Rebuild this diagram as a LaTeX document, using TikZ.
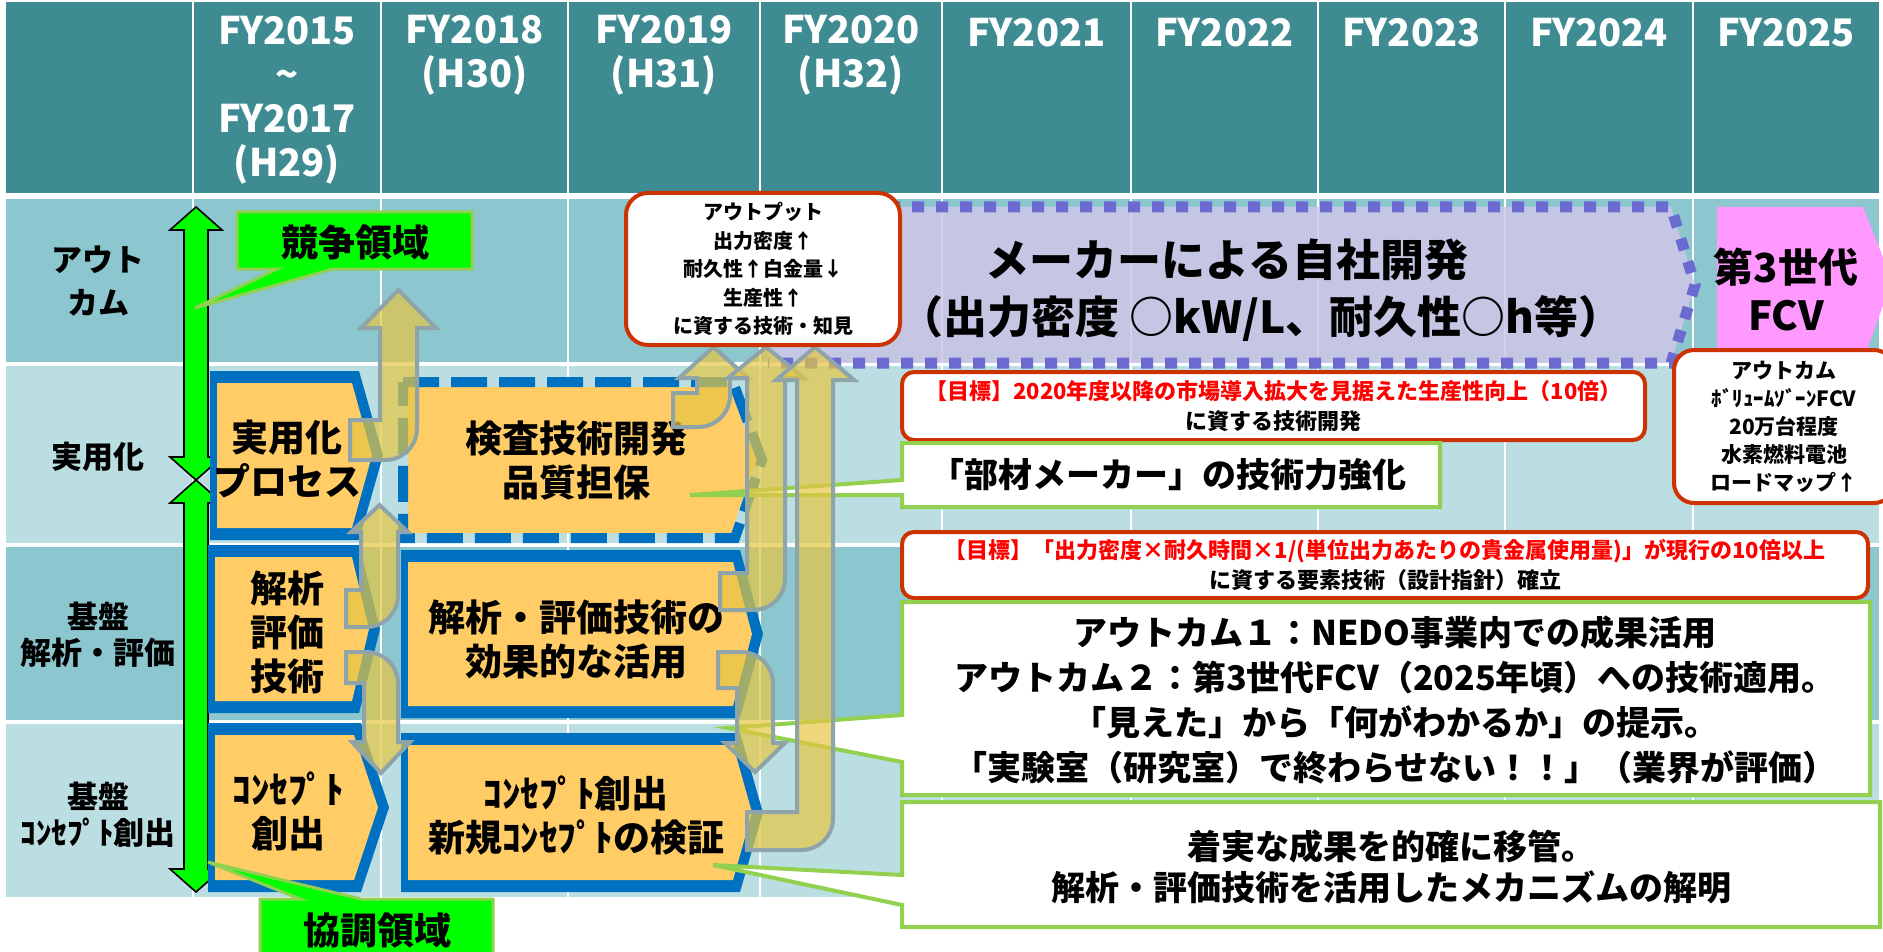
\documentclass[tikz,border=0pt]{standalone}
\usepackage{fontspec}
\setmainfont{Noto Sans CJK JP}
\usetikzlibrary{calc}

\definecolor{hdrteal}{RGB}{62,139,145}
\definecolor{rowmid}{RGB}{140,198,206}
\definecolor{rowlight}{RGB}{187,222,226}
\definecolor{boxblue}{RGB}{0,112,192}
\definecolor{boxorange}{RGB}{255,204,102}
\definecolor{notegreen}{RGB}{146,208,80}
\definecolor{areagreen}{RGB}{0,255,0}
\definecolor{goalred}{RGB}{204,51,0}
\definecolor{makerfill}{RGB}{207,198,232}
\definecolor{makerdot}{RGB}{106,106,208}
\definecolor{fcvpink}{RGB}{255,153,255}
\definecolor{arrfill}{RGB}{230,198,67}
\definecolor{arredge}{RGB}{143,164,168}

\newcommand{\platebox}[5]{%
  \fill[boxblue] (#1,#2) -- (#3,#2) -- (#4,{(#2+#5)/2}) -- (#3,#5) -- (#1,#5) -- cycle;
  \fill[boxorange] (#1+7,#2+12) -- (#3-7,#2+12) -- (#4-11,{(#2+#5)/2}) -- (#3-7,#5-12) -- (#1+7,#5-12) -- cycle;}
\newcommand{\greenarrow}[3]{\draw[greenarr] (#1,#2) -- (#1+26,#2+23) -- (#1+12,#2+23) -- (#1+12,#3-23) -- (#1+26,#3-23) -- (#1,#3) -- (#1-26,#3-23) -- (#1-12,#3-23) -- (#1-12,#2+23) -- (#1-26,#2+23) -- cycle;}
\newcommand{\jarrowup}[8]{%
  \draw[yellowarr] (#1,#2) -- (#4,#2) -- (#4,#6) -- (#4-#8,#6) -- ({(#4+#5)/2},#7) -- (#5+#8,#6) -- (#5,#6) -- (#5,#3-32) .. controls (#5,#3-14) and (#5-14,#3) .. (#5-32,#3) -- (#1,#3) -- cycle;}
\newcommand{\jarrowdown}[8]{%
  \draw[yellowarr] (#1,#3) -- (#4,#3) -- (#4,#6) -- (#4-#8,#6) -- ({(#4+#5)/2},#7) -- (#5+#8,#6) -- (#5,#6) -- (#5,#2+32) .. controls (#5,#2+14) and (#5-14,#2) .. (#5-32,#2) -- (#1,#2) -- cycle;}

\begin{document}
\begin{tikzpicture}[x=0.5pt,y=-0.5pt,
    hdrtxt/.style={text=white,font=\bfseries\fontsize{19}{22}\selectfont,align=center,inner sep=0},
    sidetxt/.style={font=\bfseries\fontsize{15.5}{18}\selectfont,align=center,inner sep=0},
    boxtxt/.style={font=\bfseries\fontsize{18.5}{22}\selectfont,align=center,inner sep=0},
    greenarr/.style={fill=areagreen,draw=black,line width=0.8pt},
    yellowarr/.style={fill=arrfill,fill opacity=0.7,draw=arredge,line width=2pt},
    notebox/.style={fill=white,draw=notegreen,line width=2pt},
    areabox/.style={fill=areagreen,draw=notegreen,line width=1.5pt},
    goalbox/.style={fill=white,draw=goalred,line width=2pt,rounded corners=6pt,align=center,inner sep=0,
      font=\bfseries\fontsize{11}{15}\selectfont}]
	\useasboundingbox (0,0) rectangle (1883,952);
	\clip (0,0) rectangle (1883,952);

    % table
    \fill[hdrteal] (6,2) rectangle (1879,193);
    \fill[rowmid] (6,199) rectangle (1879,362);
    \fill[rowlight] (6,366) rectangle (1879,543);
    \fill[rowmid] (6,547) rectangle (1879,720);
    \fill[rowlight] (6,724) rectangle (1879,897);
    \foreach \gx in {193,381,568,760,942,1131,1318,1505,1693} {
      \draw[white,line width=1pt] (\gx,2) -- (\gx,193);
      \draw[white,line width=1pt] (\gx,199) -- (\gx,897);
    }

    \node[hdrtxt] (fy15) at (287,100) {FY2015\\\textasciitilde\\FY2017\\(H29)};
    \node[hdrtxt] (fy18) at (474.5,55) {FY2018\\(H30)};
    \node[hdrtxt] (fy19) at (664,55) {FY2019\\(H31)};
    \node[hdrtxt] (fy20) at (851,55) {FY2020\\(H32)};
    \node[hdrtxt] (fy21) at (1036.5,33) {FY2021};
    \node[hdrtxt] (fy22) at (1224.5,33) {FY2022};
    \node[hdrtxt] (fy23) at (1411.5,33) {FY2023};
    \node[hdrtxt] (fy24) at (1599,33) {FY2024};
    \node[hdrtxt] (fy25) at (1786,33) {FY2025};

    \node[sidetxt,font=\bfseries\fontsize{15.5}{21.5}\selectfont] (lblout) at (98,281) {アウト\\カム};
    \node[sidetxt] (lblprac) at (98,457) {実用化};
    \node[sidetxt] (lblanal) at (98,635) {基盤\\解析・評価};
    \node[sidetxt] (lblconc) at (98,815) {基盤\\ｺﾝｾﾌﾟﾄ創出};

    % green range arrows
    \greenarrow{196}{207}{480}
    \greenarrow{196}{480}{892}

    % work packages
    \platebox{210}{371}{359}{383}{540}
    \platebox{208}{545}{359}{380}{713}
    \platebox{208}{723}{361}{389}{892}
    \platebox{401}{550}{740}{763}{718}
    \platebox{401}{733}{740}{763}{892}
    \fill[boxorange] (408,387) -- (730,387) -- (756,460) -- (731,533) -- (408,533) -- cycle;
    \draw[boxblue,line width=5pt,dash pattern=on 18pt off 6pt] (403,382) -- (733,382) -- (762,460) -- (735,538) -- (403,538) -- cycle;

    \node[boxtxt] (prac) at (287,459) {実用化\\プロセス};
    \node[boxtxt] (anal) at (287,632) {解析\\評価\\技術};
    \node[boxtxt] (conc) at (288,811) {ｺﾝｾﾌﾟﾄ\\創出};
    \node[boxtxt] (insp) at (576,461) {検査技術開発\\品質担保};
    \node[boxtxt] (use) at (576,640) {解析・評価技術の\\効果的な活用};
    \node[boxtxt] (verif) at (576,815) {ｺﾝｾﾌﾟﾄ創出\\新規ｺﾝｾﾌﾟﾄの検証};

    % maker development and FCV
    \fill[makerfill,opacity=0.85] (768,207) -- (1671,207) -- (1695,285) -- (1671,363) -- (768,363) -- cycle;
    \draw[makerdot,line width=5.5pt,dash pattern=on 6pt off 6pt] (768,207) -- (1671,207) -- (1695,285) -- (1671,363) -- (768,363);
    \node[font=\bfseries\fontsize{22}{29}\selectfont,inner sep=0] (maker1) at (1227,260) {メーカーによる自社開発};
    \node[font=\bfseries\fontsize{22}{29}\selectfont,inner sep=0] (maker2) at (1261,318) {（出力密度\ ○kW/L、耐久性○h等）};
    \fill[fcvpink] (1717,207) -- (1863,207) -- (1892,280) -- (1866,353) -- (1717,353) -- cycle;
    \node[font=\bfseries\fontsize{20}{24}\selectfont,align=center,inner sep=0] (fcv) at (1786,289) {第3世代\\FCV};

    % callouts
    \coordinate (tipcomp) at (195,308);
    \coordinate (tipcoop) at (208,862);
    \draw[areabox] (237,212) -- (472,212) -- (472,269) -- (333,269) -- (tipcomp) -- (277,269) -- (237,269) -- cycle;
    \node[font=\bfseries\fontsize{18.5}{22}\selectfont,inner sep=0] (comp) at (355,242) {競争領域};
    \draw[areabox] (260,899) -- (300,899) -- (tipcoop) -- (361,899) -- (493,899) -- (493,960) -- (260,960) -- cycle;
    \node[font=\bfseries\fontsize{18.5}{22}\selectfont,inner sep=0] (coop) at (377,930) {協調領域};

    \node[goalbox,minimum width=371.5pt,minimum height=34pt] (goal1) at (1273.5,406)
      {\textcolor{red}{【目標】2020年度以降の市場導入拡大を見据えた生産性向上（10倍）}\\に資する技術開発};
    \node[goalbox,minimum width=483pt,minimum height=33pt] (goal2) at (1385,565)
      {\textcolor{red}{【目標】「出力密度×耐久時間×1/(単位出力あたりの貴金属使用量)」が現行の10倍以上}\\に資する要素技術（設計指針）確立};
    \node[goalbox,rounded corners=10pt,minimum width=110pt,minimum height=76.5pt,font=\bfseries\fontsize{10.5}{14}\selectfont] (outcome) at (1784,426.5)
      {アウトカム\\ﾎﾞﾘｭｰﾑｿﾞｰﾝFCV\\20万台程度\\水素燃料電池\\ロードマップ↑};

    \coordinate (tipinsp) at (690,495);
    \coordinate (tipuse) at (728,728);
    \coordinate (tipverif) at (713,865);
    \draw[notebox] (902,443) -- (1440,443) -- (1440,507) -- (902,507) -- (902,495) -- (tipinsp) -- (902,480) -- cycle;
    \draw[notebox] (902,602) -- (1870,602) -- (1870,795) -- (902,795) -- (902,762) -- (tipuse) -- (902,715) -- cycle;
    \draw[notebox] (902,802) -- (1880,802) -- (1880,927) -- (902,927) -- (902,905) -- (tipverif) -- (902,875) -- cycle;
    \node[font=\bfseries\fontsize{17}{22}\selectfont,inner sep=0] (note1) at (1168,475) {「部材メーカー」の技術力強化};
    \node[font=\bfseries\fontsize{17}{22.5}\selectfont,align=center,inner sep=0] (note2) at (1395,700)
      {アウトカム１：NEDO事業内での成果活用\\アウトカム２：第3世代FCV（2025年頃）への技術適用。\\「見えた」から「何がわかるか」の提示。\\「実験室（研究室）で終わらせない！！」（業界が評価）};
    \node[font=\bfseries\fontsize{17}{20.5}\selectfont,align=center,inner sep=0] (note3) at (1391,867)
      {着実な成果を的確に移管。\\解析・評価技術を活用したメカニズムの解明};

    % transfer arrows
    \jarrowup{350}{420}{460}{380}{417}{328}{290}{19}
    \jarrowup{346}{590}{627}{361}{398}{532}{505}{10}
    \jarrowdown{346}{652}{683}{364}{398}{742}{773}{12}
    \jarrowup{673}{393}{427}{697}{730}{378}{347}{18}
    \jarrowup{720}{573}{610}{747}{785}{378}{347}{19}
    \jarrowup{747}{812}{850}{797}{833}{380}{347}{21}
    \jarrowdown{718}{652}{688}{737}{773}{743}{772}{12}

    \node[goalbox,rounded corners=11pt,minimum width=137pt,minimum height=76pt,font=\bfseries\fontsize{10}{14.3}\selectfont] (outp) at (763,269)
      {アウトプット\\出力密度↑\\耐久性↑白金量↓\\生産性↑\\に資する技術・知見};
    \end{tikzpicture}
\end{document}
